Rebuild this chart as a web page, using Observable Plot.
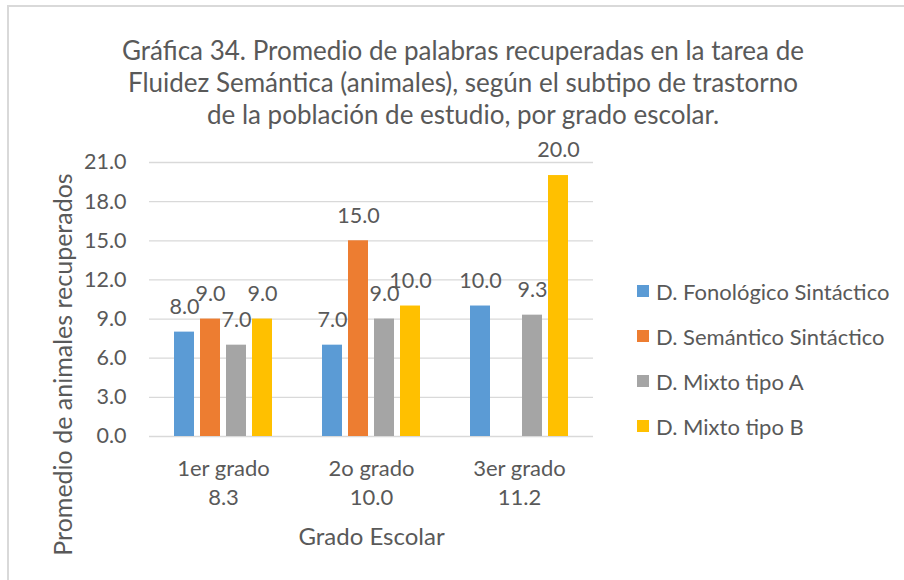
<!DOCTYPE html>
<html>
<head>
<meta charset="utf-8">
<script src="https://cdn.jsdelivr.net/npm/d3@7"></script>
<script src="https://cdn.jsdelivr.net/npm/@observablehq/plot@0.6"></script>
<style>
  html, body { margin: 0; padding: 0; background: #fff; }
  #wrap { position: relative; width: 904px; height: 580px; overflow: hidden; font-family: Lato, "Open Sans", sans-serif; color: #595959; }
  #frame { position: absolute; left: 7px; top: 5px; width: 920px; height: 600px; border-top: 2px solid #d9d9d9; border-left: 2px solid #d9d9d9; box-sizing: border-box; }
  #title { position: absolute; left: 13px; width: 900px; top: 34px; text-align: center; font-size: 26px; line-height: 32px; white-space: nowrap; }
  #chart { position: absolute; left: 0; top: 130px; }
  #legend { position: absolute; left: 637px; top: 278px; font-size: 22px; }
  .row { position: absolute; left: 0; height: 26px; white-space: nowrap; display: flex; align-items: center; }
  .sw { width: 12px; height: 12px; margin-right: 7px; flex: none; }
</style>
</head>
<body>
<div id="wrap">
  <div id="frame"></div>
  <div id="title"></div>
  <div id="chart"></div>
  <div id="legend"></div>
</div>
<script>
const titleLines = [
  "Gráfica 34. Promedio de palabras recuperadas en la tarea de",
  "Fluidez Semántica (animales), según el subtipo de trastorno",
  "de la población de estudio, por grado escolar."
];
const grades = ["1er grado", "2o grado", "3er grado"];
const gradeMeans = ["8.3", "10.0", "11.2"];
const series = ["D. Fonológico Sintáctico", "D. Semántico Sintáctico", "D. Mixto tipo A", "D. Mixto tipo B"];
const colors = ["#5B9BD5", "#ED7D31", "#A5A5A5", "#FFC000"];
const fonologico = [8.0, 7.0, 10.0];
const semantico = [9.0, 15.0, null];
const mixtoA = [7.0, 9.0, 9.3];
const mixtoB = [9.0, 10.0, 20.0];
const yTicks = [0, 3, 6, 9, 12, 15, 18, 21];
const yLabel = "Promedio de animales recuperados";
const xLabel = "Grado Escolar";

const valueLists = [fonologico, semantico, mixtoA, mixtoB];
const rows = [];
grades.forEach((g, gi) => {
  series.forEach((s, si) => {
    const v = valueLists[si][gi];
    if (v != null) rows.push({grade: g, series: s, value: v});
  });
});
const gradeRows = grades.map((g, i) => ({grade: g, mean: gradeMeans[i]}));

document.getElementById("title").innerHTML = titleLines.map(t => `<div>${t}</div>`).join("");

const font = "Lato, 'Open Sans', sans-serif";
const tc = "#595959";
const plot = Plot.plot({
  width: 904,
  height: 450,
  marginLeft: 148,
  marginRight: 311,
  marginTop: 32,
  marginBottom: 144,
  style: {fontFamily: font, fontSize: "21px", color: tc, overflow: "visible", background: "transparent"},
  fx: {domain: grades, padding: 0, axis: null},
  x: {domain: series, paddingInner: 0.222, paddingOuter: 0.857, axis: null},
  y: {domain: [0, 21], ticks: yTicks, axis: null},
  color: {domain: series, range: colors},
  marks: [
    Plot.ruleY(yTicks, {stroke: "#d9d9d9", strokeWidth: 1.3}),
    Plot.barY(rows, {fx: "grade", x: "series", y: "value", fill: "series"}),
    Plot.text(rows, {fx: "grade", x: "series", y: "value", text: d => d.value.toFixed(1), dy: -25, fill: tc, fontSize: 21.5}),
    Plot.text(yTicks, {y: d => d, text: d => d.toFixed(1), fx: () => grades[0], frameAnchor: "left", textAnchor: "end", dx: -23, fill: tc, fontSize: 21.5}),
    Plot.text(gradeRows, {fx: "grade", text: "grade", frameAnchor: "bottom", lineAnchor: "middle", dy: 32, fill: tc, fontSize: 22}),
    Plot.text(gradeRows, {fx: "grade", text: "mean", frameAnchor: "bottom", lineAnchor: "middle", dy: 61, fill: tc, fontSize: 22}),
    Plot.text([xLabel], {fx: () => grades[1], text: d => d, frameAnchor: "bottom", lineAnchor: "middle", dy: 101, fill: tc, fontSize: 24}),
    Plot.text([yLabel], {fx: () => grades[0], text: d => d, frameAnchor: "left", textAnchor: "middle", lineAnchor: "middle", rotate: -90, dx: -86, dy: 65, fill: tc, fontSize: 25})
  ]
});
document.getElementById("chart").appendChild(plot);

const legend = document.getElementById("legend");
series.forEach((s, i) => {
  const r = document.createElement("div");
  r.className = "row";
  r.style.top = (i * 45) + "px";
  r.innerHTML = `<span class="sw" style="background:${colors[i]}"></span><span>${s}</span>`;
  legend.appendChild(r);
});
</script>
</body>
</html>
